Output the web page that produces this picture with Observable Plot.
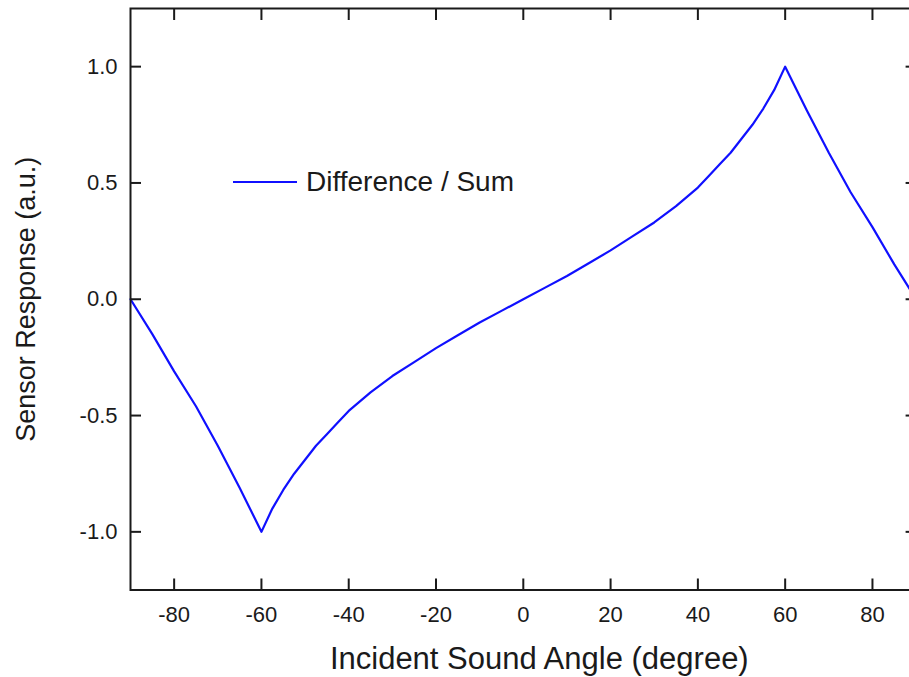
<!DOCTYPE html>
<html>
<head>
<meta charset="utf-8">
<script src="https://cdn.jsdelivr.net/npm/d3@7"></script>
<script src="https://cdn.jsdelivr.net/npm/@observablehq/plot@0.6"></script>
<style>
  html, body { margin: 0; padding: 0; background: #fff; overflow: hidden; }
  #wrap { position: relative; width: 909px; height: 677px; overflow: hidden; }
  #chart { width: 930px; }
  #chart svg { max-width: none !important; display: block; }
  #chart g[aria-label="x-axis tick label"], #chart g[aria-label="y-axis tick label"] { font-size: 22px !important; }
  #legend { position: absolute; left: 233px; top: 166px; display: flex; align-items: center;
            font-family: "Liberation Sans", Arial, sans-serif; font-size: 28px; color: #1a1a1a; }
  #legend .sw { width: 64px; height: 0; border-top: 2px solid #1010ff; margin-right: 9px; }
</style>
</head>
<body>
<div id="wrap">
  <div id="chart"></div>
  <div id="legend"><span class="sw"></span><span id="legendText"></span></div>
</div>
<script>
const seriesName = "Difference / Sum";
const xTitle = "Incident Sound Angle (degree)";
const yTitle = "Sensor Response (a.u.)";
const xTicks = [-80, -60, -40, -20, 0, 20, 40, 60, 80];
const yTicks = [-1.0, -0.5, 0.0, 0.5, 1.0];
const angles = [-90, -85, -80, -75, -70, -65, -60, -57.5, -55, -52.5, -50, -47.5, -45, -42.5, -40,
  -35, -30, -25, -20, -15, -10, -5, 0, 5, 10, 15, 20, 25, 30, 35,
  40, 42.5, 45, 47.5, 50, 52.5, 55, 57.5, 60, 65, 70, 75, 80, 85, 90];
const response = [0, -0.15, -0.31, -0.46, -0.63, -0.81, -1.00, -0.90, -0.82, -0.75, -0.69, -0.63, -0.58, -0.53, -0.48,
  -0.40, -0.33, -0.27, -0.21, -0.155, -0.10, -0.05, 0, 0.05, 0.10, 0.155, 0.21, 0.27, 0.33, 0.40,
  0.48, 0.53, 0.58, 0.63, 0.69, 0.75, 0.82, 0.90, 1.00, 0.81, 0.63, 0.46, 0.31, 0.15, 0];

const data = angles.map((a, i) => ({angle: a, value: response[i]}));
document.getElementById("legendText").textContent = seriesName;

const font = "'Liberation Sans', Arial, sans-serif";
const ink = "#1a1a1a";

const chart = Plot.plot({
  width: 930,
  height: 677,
  marginLeft: 130,
  marginRight: 14.4,
  marginTop: 8,
  marginBottom: 87.5,
  style: {fontFamily: font, fontSize: "22px", color: ink, background: "white", overflow: "visible", maxWidth: "none"},
  x: {domain: [-90, 90]},
  y: {domain: [-1.25, 1.25]},
  marks: [
    Plot.line(data, {x: "angle", y: "value", stroke: "#1010ff", strokeWidth: 2.2}),
    Plot.frame({stroke: ink, strokeWidth: 2}),
    Plot.axisX(xTicks, {anchor: "bottom", tickSize: -11, tickPadding: 27.5, strokeWidth: 2, label: null, fontSize: 22, tickFormat: d => d3.format("d")(d).replace("−", "-")}),
    Plot.axisX(xTicks, {anchor: "top", tickSize: -11, strokeWidth: 2, label: null, tickFormat: () => ""}),
    Plot.axisY(yTicks, {anchor: "left", tickSize: -11, tickPadding: 24, strokeWidth: 2, label: null, fontSize: 22, tickFormat: d => d.toFixed(1).replace("−", "-")}),
    Plot.axisY(yTicks, {anchor: "right", tickSize: -11, strokeWidth: 2, label: null, tickFormat: () => ""}),
    Plot.text([xTitle], {text: d => d, frameAnchor: "bottom", dx: 16, dy: 69, fontSize: 31, fill: ink, lineAnchor: "middle"}),
    Plot.text([yTitle], {text: d => d, frameAnchor: "left", dx: -104, fontSize: 27, fill: ink, rotate: -90, lineAnchor: "middle", textAnchor: "middle"})
  ]
});
document.getElementById("chart").appendChild(chart);
</script>
</body>
</html>
